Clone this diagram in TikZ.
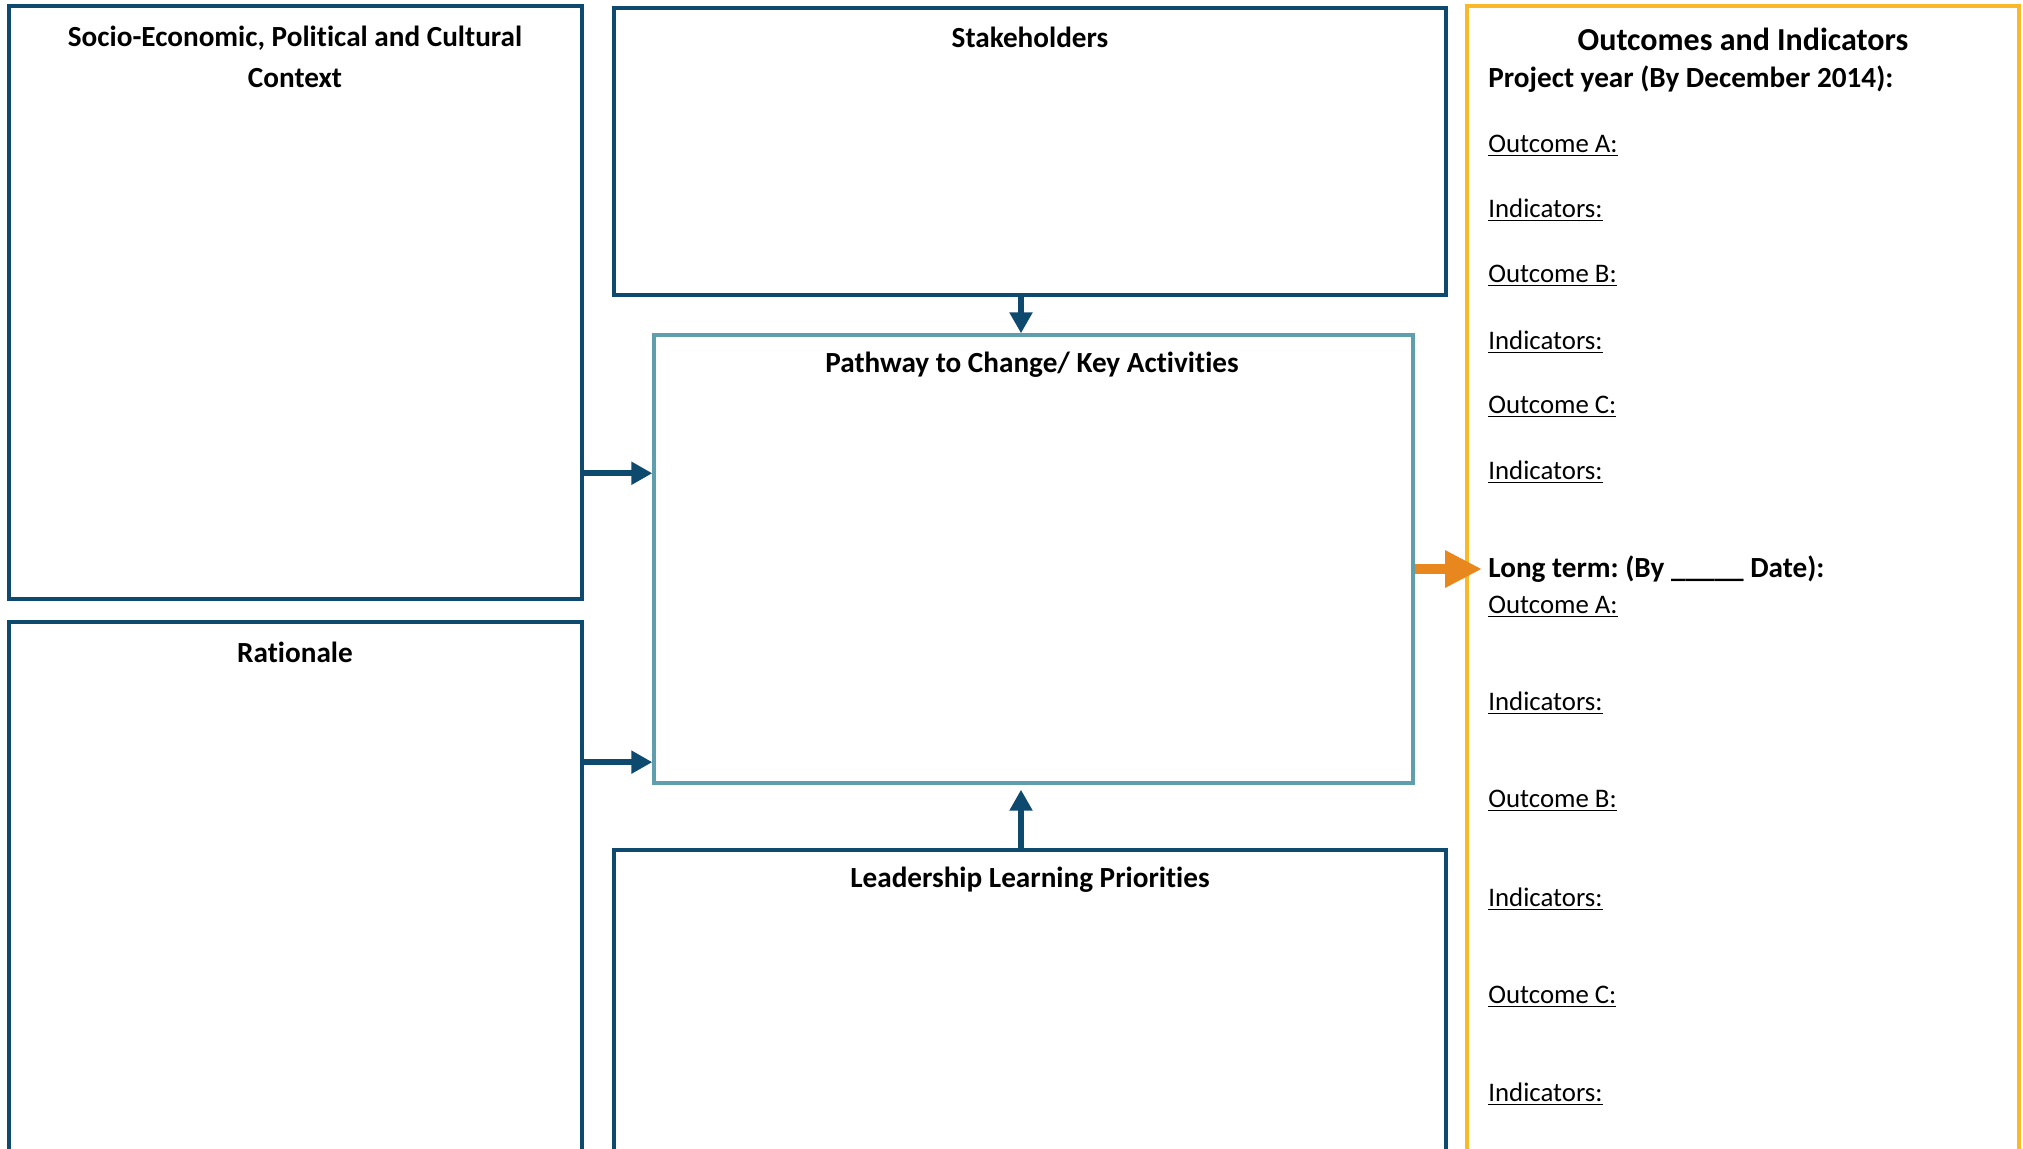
\documentclass[tikz,border=0pt]{standalone}
\usepackage{fontspec}
\setmainfont{Carlito}[Ligatures=NoCommon]
\usetikzlibrary{arrows.meta}
\usetikzlibrary{fit}
\usetikzlibrary{calc}

\definecolor{navy}{RGB}{14,74,110}
\definecolor{paleteal}{RGB}{95,158,173}
\definecolor{gold}{RGB}{250,185,40}
\definecolor{orangearr}{RGB}{232,135,30}
\frenchspacing

\begin{document}
\begin{tikzpicture}[
        x=0.5pt, y=-0.5pt,
        box/.style={draw=navy, line width=1.7pt, inner sep=0pt},
        title/.style={font=\bfseries\fontsize{14.6}{20.5}\selectfont, align=center},
        item/.style={anchor=west, inner sep=0pt, font=\fontsize{13.4}{15}\selectfont},
        arr/.style={navy, line width=2.8pt, -{Triangle[length=10.5pt,width=11pt]}}
    ]
        \useasboundingbox (0,0) rectangle (2023,1148);
        \clip (0,0) rectangle (2023,1148);

        % boxes
        \node[box, fit={(9,6) (582,599)}] (ctx) {};
        \node[box, fit={(9,622) (582,1200)}] (rat) {};
        \node[box, fit={(614,8) (1446,295)}] (stake) {};
        \node[box, draw=paleteal, fit={(654,335) (1413,783)}] (path) {};
        \node[box, fit={(614,850) (1446,1200)}] (lead) {};
        \node[box, draw=gold, fit={(1467,6) (2019,1200)}] (outc) {};

        % titles
        \node[title] (ctxT) at (295,57) {Socio-Economic, Political and Cultural\\Context};
        \node[title] (ratT) at (295,652) {Rationale};
        \node[title] (stakeT) at (1030,37) {Stakeholders};
        \node[title] (pathT) at (1032,365) {Pathway to Change/ Key Activities};
        \node[title] (leadT) at (1030,880) {Leadership Learning Priorities};
        \node[font=\bfseries\fontsize{16}{18}\selectfont] (outcT) at (1743,39) {Outcomes and Indicators};

        % outcomes column
        \node[item, font=\bfseries\fontsize{14.6}{16}\selectfont] (proj) at (1488,79) {Project year (By December 2014):};
        \node[item, font=\bfseries\fontsize{14.6}{16}\selectfont] (longt) at (1488,569) {Long term: (By \_\_\_\_\_ Date):};
        \foreach \t/\y [count=\i] in {Outcome A:/146, Indicators:/210, Outcome B:/276, Indicators:/342,
                Outcome C:/407, Indicators:/472, Outcome A:/607, Indicators:/703,
                Outcome B:/801, Indicators:/899, Outcome C:/997, Indicators:/1094}
            \node[item] (it\i) at (1488,\y) {\underline{\t}};

        % arrows
        \coordinate (pA) at ($(path.north west)!0.31!(path.south west)$);
        \coordinate (pB) at ($(path.north west)!0.95!(path.south west)$);
        \draw[arr] (ctx.east |- pA) -- (pA);
        \draw[arr] (rat.east |- pB) -- (pB);
        \draw[arr] ([xshift=-4.5pt]stake.south) -- ([xshift=-4.5pt]stake.south |- path.north);
        \draw[arr] ([xshift=-4.5pt]lead.north) -- ([xshift=-4.5pt,yshift=-2.5pt]lead.north |- path.south);
        \draw[orangearr, line width=5pt, -{Triangle[length=18.5pt,width=17.5pt]}] (path.east |- longt) -- ([xshift=-3pt]longt.west);

\end{tikzpicture}
\end{document}
